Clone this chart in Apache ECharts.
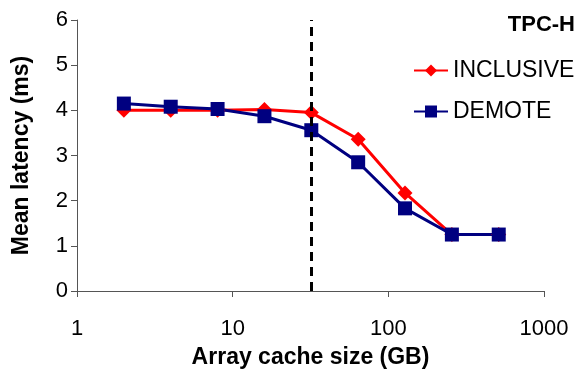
<!DOCTYPE html>
<html><head><meta charset="utf-8">
<script src="https://cdn.jsdelivr.net/npm/echarts@6/dist/echarts.min.js"></script>
<style>html,body{margin:0;padding:0;background:#fff}#c{width:577px;height:376px}</style>
</head><body><div id="c"></div>
<script>
const cacheSizes = [2, 4, 8, 16, 32, 64, 128, 256, 512];
const inclusive = [4.0, 4.0, 4.0, 4.02, 3.95, 3.36, 2.17, 1.25, 1.25];
const demote = [4.15, 4.08, 4.03, 3.87, 3.56, 2.85, 1.83, 1.25, 1.25];
const boundary = 32;
const font = 'Liberation Sans, Arial, sans-serif';
const chart = echarts.init(document.getElementById('c'));
chart.setOption({
  animation: false,
  title: { text: 'TPC-H', right: -3, top: 9, textStyle: { fontFamily: font, fontSize: 22, fontWeight: 'bold', color: '#000' } },
  legend: {
    orient: 'vertical', left: 408, top: 54, itemGap: 18, itemWidth: 34, itemHeight: 15,
    textStyle: { fontFamily: font, fontSize: 23, color: '#000' },
    data: ['INCLUSIVE', 'DEMOTE']
  },
  grid: { left: 77, right: 33, top: 20, bottom: 85 },
  xAxis: {
    type: 'log', logBase: 10, min: 1, max: 1000,
    name: 'Array cache size (GB)', nameLocation: 'middle', nameGap: 55,
    nameTextStyle: { fontFamily: font, fontSize: 23, fontWeight: 'bold', color: '#000' },
    axisLine: { lineStyle: { color: '#555', width: 1 } },
    axisTick: { show: true, length: 6, lineStyle: { color: '#555' } },
    minorTick: { show: false },
    splitLine: { show: false },
    axisLabel: { fontFamily: font, fontSize: 22, color: '#000', margin: 27, formatter: v => String(Math.round(v)) }
  },
  yAxis: {
    type: 'value', min: 0, max: 6, interval: 1,
    name: 'Mean latency (ms)', nameLocation: 'middle', nameGap: 44, nameRotate: 90,
    nameTextStyle: { fontFamily: font, fontSize: 23, fontWeight: 'bold', color: '#000' },
    axisLine: { show: true, lineStyle: { color: '#555', width: 1 } },
    axisTick: { show: true, length: 6, lineStyle: { color: '#555' } },
    splitLine: { show: false },
    axisLabel: { fontFamily: font, fontSize: 22, color: '#000', margin: 9 }
  },
  series: [
    {
      name: 'INCLUSIVE', type: 'line', data: cacheSizes.map((x, i) => [x, inclusive[i]]),
      symbol: 'diamond', symbolSize: 15, color: '#ff0000',
      lineStyle: { width: 3, color: '#ff0000' }, itemStyle: { color: '#ff0000' },
      markLine: {
        silent: true, symbol: 'none', label: { show: false },
        lineStyle: { color: '#000', type: [9, 6], width: 3 },
        data: [{ xAxis: boundary }]
      }
    },
    {
      name: 'DEMOTE', type: 'line', data: cacheSizes.map((x, i) => [x, demote[i]]),
      symbol: 'rect', symbolSize: 14, color: '#000080',
      lineStyle: { width: 3, color: '#000080' }, itemStyle: { color: '#000080' }
    }
  ]
});
</script></body></html>
